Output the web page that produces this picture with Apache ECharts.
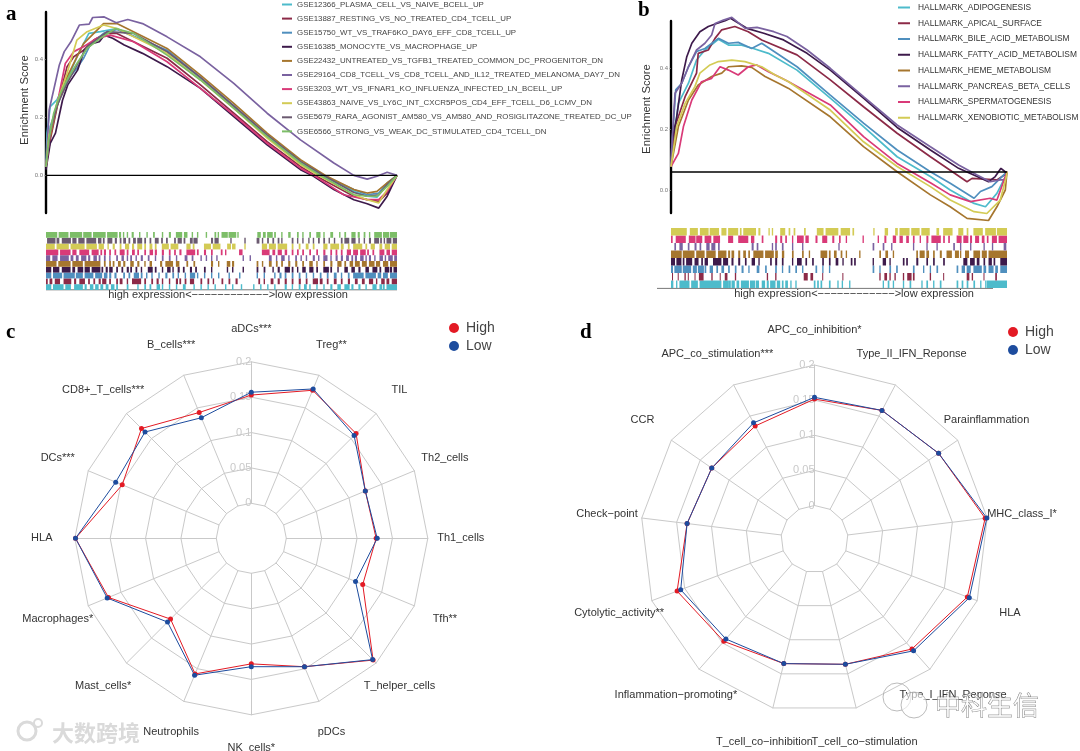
<!DOCTYPE html>
<html><head><meta charset="utf-8">
<style>html,body{margin:0;padding:0;background:#fff}#c{width:1080px;height:751px}</style>
<script src="https://cdn.jsdelivr.net/npm/echarts@6/dist/echarts.min.js"></script>
</head><body><div id="c"></div>
<script>
const namesA = ['GSE12366_PLASMA_CELL_VS_NAIVE_BCELL_UP','GSE13887_RESTING_VS_NO_TREATED_CD4_TCELL_UP','GSE15750_WT_VS_TRAF6KO_DAY6_EFF_CD8_TCELL_UP','GSE16385_MONOCYTE_VS_MACROPHAGE_UP','GSE22432_UNTREATED_VS_TGFB1_TREATED_COMMON_DC_PROGENITOR_DN','GSE29164_CD8_TCELL_VS_CD8_TCELL_AND_IL12_TREATED_MELANOMA_DAY7_DN','GSE3203_WT_VS_IFNAR1_KO_INFLUENZA_INFECTED_LN_BCELL_UP','GSE43863_NAIVE_VS_LY6C_INT_CXCR5POS_CD4_EFF_TCELL_D6_LCMV_DN','GSE5679_RARA_AGONIST_AM580_VS_AM580_AND_ROSIGLITAZONE_TREATED_DC_UP','GSE6566_STRONG_VS_WEAK_DC_STIMULATED_CD4_TCELL_DN'];
const colorsA = ['#4DBBCB','#8C2A47','#4F8FBE','#3D1A4B','#A6762E','#7A62A0','#D93A78','#D3CB55','#6B5A70','#7DBE68'];
const namesB = ['HALLMARK_ADIPOGENESIS','HALLMARK_APICAL_SURFACE','HALLMARK_BILE_ACID_METABOLISM','HALLMARK_FATTY_ACID_METABOLISM','HALLMARK_HEME_METABOLISM','HALLMARK_PANCREAS_BETA_CELLS','HALLMARK_SPERMATOGENESIS','HALLMARK_XENOBIOTIC_METABOLISM'];
const colorsB = ['#4DBBCB','#8C2A47','#4F8FBE','#3D1A4B','#A6762E','#7A62A0','#D93A78','#D3CB55'];

// panel a curves: [rank %, enrichment score]
const a0 = [[0,.03],[.3,.146],[1.2,.238],[3.1,.261],[6,.33],[8.8,.41],[12.2,.491],[15.5,.497],[20.2,.508],[34.5,.428],[44,.336],[53.5,.238],[63,.134],[72.5,.043],[78.6,0],[87.7,-.055],[91.5,-.072],[94.3,-.075],[97.2,-.032],[100,0]];
const a1 = [[0,.03],[1.2,.123],[3.6,.261],[6,.376],[7.9,.41],[10.7,.433],[13.6,.468],[16.9,.491],[20.2,.491],[34.5,.405],[44,.313],[53.5,.215],[63,.117],[72.5,.031],[76.7,0],[87.7,-.072],[91.5,-.084],[94.8,-.09],[97.2,-.061],[100,0]];
const a2 = [[0,.03],[1.2,.169],[3.1,.238],[6,.33],[8.8,.37],[10.7,.405],[12.6,.451],[16.4,.491],[20.2,.505],[34.5,.433],[44,.339],[53.5,.24],[63,.137],[72.5,.045],[78.8,0],[87.7,-.049],[91.5,-.067],[94.8,-.061],[97.2,-.026],[100,0]];
const a3 = [[0,.02],[1.2,.111],[2.7,.146],[4.7,.26],[6.2,.313],[9,.364],[10.9,.433],[13.3,.456],[15.2,.462],[16.6,.485],[19,.474],[22.3,.451],[27.5,.422],[34.5,.376],[44,.301],[53.5,.203],[63,.106],[72.5,.02],[75.8,0],[82,-.049],[87.7,-.084],[91.5,-.098],[94.8,-.113],[97.2,-.072],[100,0]];
const a4 = [[0,.03],[.8,.111],[3.1,.238],[6,.341],[10.7,.456],[16.4,.525],[20.2,.525],[34.5,.439],[44,.347],[53.5,.249],[63,.146],[72.5,.054],[79.6,0],[87.7,-.049],[91.5,-.061],[94.3,-.055],[97.2,-.026],[100,0]];
const a5 = [[0,.03],[.9,.226],[3.8,.382],[5.2,.428],[7.1,.462],[9.5,.52],[12.3,.523],[13.3,.546],[16.6,.548],[20,.528],[23.3,.539],[27.5,.525],[34.5,.479],[44,.41],[53.5,.318],[63,.215],[72.5,.123],[82,.043],[87.7,0],[91.5,-.013],[94.3,-.003],[97.2,.011],[100,0]];
const a6 = [[0,.03],[1.2,.146],[3.6,.272],[5.5,.387],[7.9,.428],[10.7,.445],[14.5,.474],[18.3,.485],[25,.462],[34.5,.393],[44,.301],[53.5,.209],[63,.111],[72.5,.025],[76.3,0],[84.8,-.067],[91.5,-.084],[94.8,-.084],[97.2,-.055],[100,0]];
const a7 = [[0,.03],[.8,.134],[3.1,.249],[6,.353],[8.8,.468],[11.7,.497],[16.4,.52],[20.2,.508],[34.5,.422],[44,.33],[53.5,.232],[63,.129],[72.5,.037],[77.7,0],[87.7,-.067],[91.5,-.084],[94.8,-.095],[97.2,-.049],[100,0]];
const a8 = [[0,.03],[1.2,.15],[3.1,.24],[6,.318],[11.7,.445],[17.4,.497],[25,.491],[34.5,.428],[44,.339],[53.5,.24],[63,.14],[72.5,.048],[79.1,0],[87.7,-.059],[91.5,-.072],[94.8,-.067],[97.2,-.032],[100,0]];
const a9 = [[0,.03],[.8,.123],[2.2,.215],[4.1,.284],[6,.33],[8.8,.387],[11.7,.439],[15.5,.474],[19.8,.508],[25,.491],[34.5,.416],[44,.33],[53.5,.232],[63,.134],[72.5,.043],[78.2,0],[82,-.026],[87.7,-.067],[91.5,-.072],[94.3,-.072],[97.2,-.038],[100,0]];
const curvesA = [a0,a1,a2,a3,a4,a5,a6,a7,a8,a9];

// panel b curves
const b0 = [[0,.077],[.2,.109],[2.2,.284],[5.2,.35],[7.6,.426],[10.1,.459],[14.1,.494],[17.1,.475],[21,.475],[24.5,.464],[29,.448],[37.5,.393],[47.4,.301],[57.3,.208],[67.3,.109],[77.2,.044],[83.1,0],[90.2,-.044],[93.6,-.055],[97,-.011],[99.5,.044],[100,.06]];
const b1 = [[0,.077],[1.2,.208],[4.2,.306],[7.6,.383],[8.1,.448],[11.1,.459],[13.1,.497],[15.1,.525],[19,.536],[23,.519],[27,.492],[37.5,.443],[47.4,.361],[57.3,.273],[67.3,.186],[77.2,.109],[88.1,.027],[89.6,.038],[97,.033],[100,.055]];
const b2 = [[0,.077],[.2,.131],[1.4,.328],[3.2,.35],[5.2,.404],[7.6,.454],[10.1,.464],[14.1,.497],[17.1,.481],[20,.484],[24,.464],[27,.481],[37.5,.404],[47.4,.311],[57.3,.219],[67.3,.131],[77.2,.06],[83.1,.022],[90.2,-.027],[92.1,-.005],[95.5,.011],[98.5,.044],[100,.06]];
const b3 = [[0,.077],[.2,.153],[1.7,.24],[3.2,.361],[4.7,.437],[6.2,.481],[8.6,.519],[11.1,.536],[13.6,.546],[16.1,.555],[17.7,.563],[22.6,.53],[27.6,.514],[33.5,.492],[40.5,.448],[47.4,.393],[57.3,.301],[67.3,.205],[77.2,.131],[85.6,.071],[91.1,.044],[94.5,.027],[96.5,.044],[98.2,.071],[100,.055]];
const b4 = [[0,.077],[2.2,.208],[5.2,.295],[8.1,.344],[12.1,.372],[15.1,.383],[17.1,.404],[21,.407],[24,.402],[28,.372],[32,.35],[35,.333],[47.4,.24],[57.3,.142],[67.3,.06],[77.2,-.016],[83.1,-.055],[88.1,-.093],[94.5,-.1],[97,-.055],[99.5,0],[100,.06]];
const b5 = [[0,.077],[.4,.175],[1.2,.317],[3.2,.35],[5.2,.404],[7.6,.459],[10.1,.481],[12.1,.508],[13.1,.546],[15.6,.557],[18.1,.566],[22.1,.53],[25.6,.533],[30.6,.519],[34.5,.503],[40.5,.459],[47.4,.399],[57.3,.306],[67.3,.213],[77.2,.142],[85.6,.082],[91.1,.049],[95,.027],[98,.033],[99.5,.033],[100,.06]];
const b6 = [[0,.077],[2.2,.12],[3.7,.208],[6.2,.295],[9.1,.355],[12.1,.366],[14.6,.404],[17.1,.393],[20,.377],[23,.404],[25.5,.41],[29,.388],[33,.366],[35,.355],[47.4,.279],[57.3,.175],[67.3,.087],[77.2,.024],[83.1,-.016],[89.1,-.038],[95,-.027],[97,-.033],[99.5,.044],[100,.06]];
const b7 = [[0,.077],[1.7,.208],[4.2,.284],[7.1,.339],[8.6,.383],[11.6,.41],[14.1,.421],[18.1,.426],[22,.421],[27,.404],[31,.377],[35,.355],[47.4,.262],[57.3,.158],[67.3,.077],[77.2,.011],[83.1,-.033],[90.2,-.071],[94,-.077],[98,-.033],[99.8,.044],[100,.06]];
const curvesB = [b0,b1,b2,b3,b4,b5,b6,b7];

// barcode rows: start %, width %, ...
const stripA0 = [0,1.5,2,3,5.5,1.6,8,2.5,11,.6,12.5,1,14,1,15.5,.8,17,.8,18.5,1,20,.5,23,.5,26,.4,28,.5,29.5,.5,31.5,1,33,.4,35,.4,37,.4,39,.8,42,.4,44,.4,46,.4,48,.4,51,.4,53,.4,55.5,.4,59,.4,61,.4,63,.4,65,.4,68,.6,70,.4,72,.5,73.5,.8,75,.4,77,.4,79,.4,81,.6,83,1,85,1.5,87,.6,89,.6,91,.4,93,1.2,95,.8,96,.5,97,3];
const stripA1 = [0,.5,1,.8,2.5,1.5,5,2.2,8,.6,9.5,1.6,12,.5,13.5,.5,15,.6,16,1.2,18,.5,20,.5,21,.8,23,.4,24.5,2.6,28,.5,30,.5,31.5,.6,33,.4,35,.4,37,.6,38,.5,39.5,.5,41,1.2,44,.5,46,.5,47.5,.4,50,.5,52,.5,54,.6,60.5,.5,62,.4,64,.8,66,.6,68,.6,70,.5,72,.6,74,.5,76,1.5,78,.8,80,.5,82,.8,84,.5,86,.6,88,.8,90,.8,92,1.2,94,.4,95.5,1,97,.8,98.5,1.5];
const stripA2 = [0,1.5,2,2.6,5,3.2,8.5,2,11,2.5,14,2,16.5,1,18,.6,19.5,.6,22,.5,23.5,.5,25,1.5,27,.5,28.5,.4,30,.4,32,.4,34,.6,36,.5,37.5,.4,39.5,.4,41,1.5,43,.4,45,.4,47,.4,49,.4,52,.4,55,.4,60,.4,62,.4,65,.4,66.5,.6,68,.5,70,.5,72,.5,74,.4,76,.4,78,.5,80,.5,82,.8,84,.4,86,.5,87.5,3,91,3,94.5,1,96,1.4,98,2];
const stripA3 = [0,1.5,2,1.8,4.5,2.5,7.5,.8,9,1.6,11,1.5,13,2.5,15.8,.5,17,.6,18,1,20,.5,21.5,.5,23,.6,24,.5,25.5,.5,27,.4,29,1.4,31,.5,33,.4,34.5,1,36,.4,37.5,.6,39,.5,41,.6,42.5,.5,45,.5,47,.4,51.5,.4,53,.4,56,.4,60,.5,62,.5,64.5,.4,66,.6,68,1.5,70,.5,71.5,.4,73,1,75,1.2,77,.5,79,1.6,81,.5,83,.4,85,1,87,1,89,.6,91,1,93,1.4,95,.5,96.5,1.3,98,.6,99,1];
const stripA4 = [0,3,3.5,3.5,7.5,3,11,4.5,16.5,.5,18,.5,19,.5,20.5,.8,22,.6,24,1,26,.6,28,.4,29.5,.7,32.5,.6,34,2.2,37,1,40,.5,42,.5,47,.6,49,.4,51.5,1,53,.6,60,.5,61.5,.4,63.5,.8,65.5,.5,67,.5,69,.6,71,.6,73,.5,75,1,77,.4,79,.5,81,.6,83,1.2,85,.5,86.5,1,88,1.4,90,1.4,92,1.6,94,1.2,96,1.5,98,2];
const stripA5 = [0,1.2,1.8,1.5,4,2.5,7,.8,8.5,.8,10,1.5,12,.6,13.5,1,15,.5,16.5,.5,18,.4,20,.5,21.5,.7,23,.4,24,.5,25.5,.4,27,.6,29,.5,31,.4,33,.5,35,.5,37,.4,39.5,.8,41.5,.5,44,.4,45.5,.4,47,.4,48.5,.4,56,.4,58,.4,63.5,.8,65.5,.4,67,1,69,.4,71,.5,72.5,.4,74,.4,76,.6,77.5,.4,79,1.2,81,.4,82.5,.6,84,.6,85.5,.8,87,.5,88,.6,89.5,1,91,.4,92,.6,93.5,.4,95,1,96.5,.4,97.5,1.3,99.2,.8];
const stripA6 = [0,3.5,4,3,7.5,1.2,9.5,2.8,13,2,15.5,.5,16.5,.6,18,.5,19.5,.5,21,1.4,23,.5,24.5,.8,26,.5,28,.5,29.5,1,31,.6,33,.6,35,.5,36.5,.5,38,.6,40,2.5,43,.5,45,.6,47,.5,49.8,.5,51,.4,55,1,61.5,2.2,64.5,.8,66,1.2,68,.7,70,.5,71.5,.5,73,.5,75,.5,77,.5,79,.6,81,.5,82.5,.5,84,.5,85.7,1.2,87.5,1.4,89.5,1.6,91.5,.5,93,.5,95,1.4,97,1,98.5,1.5];
const stripA7 = [0,2.5,3,3.5,7,4,11.5,3,15,1.5,17.5,.4,19,.6,21,.5,22.5,1.2,24.5,.6,26,1.4,28,.5,29.5,.8,31,.5,33,2,35.5,2.2,40,1.2,41.8,.5,45,2,47.5,2.2,51.6,1.1,53,1,56.5,.4,61.5,1.5,63.5,2,66,2.7,70,.5,72,.5,74,.8,76,.5,79,1.2,81,2.5,84,.8,86,.5,87.5,2.6,91,.5,92.5,1.2,95,.8,96.5,1.5,98.5,1.5];
const stripA8 = [.3,2.4,3,.8,4.5,2.6,7.5,1.2,9.2,1.8,11.5,2.8,14.8,1,16.2,.5,17.5,1.4,19.6,.6,21,.5,22,.8,23.5,.5,24.8,.8,26,1.4,28,.5,29.5,.5,31,1.1,32.8,.5,34.2,.5,36.5,.5,37.5,1.2,39.2,.5,41,.8,42,1.2,47,.6,48,1.2,52.5,.4,56.5,.4,60,.8,61.5,.4,63,.5,64.5,.5,66,.5,67,.4,70,.5,71.5,.4,73,.4,74.7,.4,76,.4,77.5,.5,79,.5,80.5,.4,82,.4,84,.5,85,1.4,87,1.2,89,.4,90.5,.4,92,.6,93.5,1.4,95.2,.5,96.2,.4,97,1.4,98.8,1.2];
const stripA9 = [0,3.2,3.6,2.8,6.8,3.5,10.6,2.4,13.4,3.6,17.4,3,20.8,.6,21.9,.4,23,.4,24.4,.6,26.5,.4,28.6,.4,30.5,.5,33,.4,35,.6,37,1.8,39.3,1,41.5,.4,43,.4,45.5,.4,48,.5,48.9,.4,50,1.8,52,2.2,54.5,.4,60.2,1,61.8,.8,63,1.6,65,.5,67,.4,69,.7,71.5,.5,73,.4,75,.5,77,1.2,79,.4,81,.8,83.5,.4,85,.5,87,1.2,88.8,.6,90.5,.5,92,.4,93.5,2.2,96,1.8,98,2];
const stripsA = [stripA0,stripA1,stripA2,stripA3,stripA4,stripA5,stripA6,stripA7,stripA8,stripA9];

const stripB0 = [0,.7,1.5,.4,2.5,3,6,2,8.5,4,12.5,2.5,15.5,1.5,17,.8,18,1,19.5,.8,20.8,2.4,23.5,1.5,25.2,1,27,1,28.5,.6,29.5,1.6,31.5,1,33,.5,34,.8,35.5,.4,37,.4,42.5,.5,43.5,.5,44.5,.5,47,.5,49.5,.4,50.8,.4,53,.4,63,.4,64.5,.5,66,.4,69,.4,71,.5,74.5,.4,76,.5,78,.4,80,.5,85,.5,86.5,.5,88,.5,90,.5,92,.4,93.5,.4,94,6];
const stripB1 = [.3,.3,2,.3,4,.4,5,.3,7,.3,8.3,1.4,12,.4,14.5,.3,16,.8,19,.4,28.5,.4,31,.4,39.5,1.2,41.5,.8,45,.3,51,.3,62,.4,63.5,.8,65,.4,66.5,.4,69,.4,70.3,1.3,72,.5,77,.4,81,.3,88,.8,89.5,.4,93,.3,96.5,.5];
const stripB2 = [0,.6,1,2.2,3.5,2.5,6.5,1.2,8,1.8,10,.5,11.5,1,13.5,.5,15,.8,17,.5,19,.5,21,.6,23,.4,25.5,.8,28,.5,31,.5,33,.4,35,.5,37,.5,39,.4,43,.5,45,.4,47,.4,60,.5,62,.4,65,.5,67,.5,72,.5,75,.4,77,.4,79,.5,85,.5,86.5,1,88,1.2,90,2.5,93,.8,94.5,1.5,96.5,.8,98,2];
const stripB3 = [0,1.2,1.6,1.5,3.5,.5,4.5,1.8,7,1.2,9,.5,10,1,12.5,2.5,15.5,1.5,18,.6,20,.6,22,.5,24,1,26,.4,29.5,.5,31,.6,33,.5,36,.4,37.5,1.4,40,.5,42,.5,45,.5,47,.5,49,.8,51,.4,53.5,.5,54.5,.5,60,.4,63,1,65,.4,69,.5,70,.5,73,.6,76,.5,78,.5,81,.5,87,1.2,89,1.4,91,.8,93,.5,94.5,1,96,.5,98,2];
const stripB4 = [0,3.2,3.5,3.5,7.5,2.5,10.5,2.8,14,2.5,17,.6,18,.8,20,.6,21.5,.8,23,.5,24.5,3,28,2.6,31,.8,33,.7,36,.5,39,.5,41,.4,44.5,2,47,.5,48.5,.8,50.5,.5,52,.4,56,.4,62,.5,63.8,.8,66,.4,73,.5,74,1.5,76,.8,78,.5,80,.6,82,1.6,84.5,1.2,86,.4,87.5,1.2,90,2,92.5,1.5,94.5,5.5];
const stripB5 = [1,.5,2.5,1,5,.5,7,.6,8.5,.5,10.5,1,12,1.2,14,.5,24,.6,25.5,.5,30,.4,31,.5,33,.5,36,.4,39,.4,49.8,.4,60,.5,63,.5,65.5,.4,72,.4,76,.4,79,.4,84,.5,86,.4,89,.4,93,.4,95.5,.4,99,.8];
const stripB6 = [0,.5,1.4,3,5.3,2,7.5,1.8,10,2,12.6,2,17,1.5,20,3,23.8,1,27,.5,31,.6,32.5,.6,34,.5,36,.4,37.5,2,40,1,43,.6,45,1.5,48,.6,50,.5,52,.4,57,.4,61.5,.4,63.5,.6,66,1,68,1,70,.8,72,.5,74,.4,76,.6,77.5,2.8,81,.5,82.5,.5,85,1.5,87,1.5,89,.6,90.5,1.2,92.5,.8,94,.5,95.5,1.5,97.5,2.5];
const stripB7 = [0,4.7,5.6,2.4,8.6,2.6,11.5,2.8,15,1.5,17,3,20.5,.5,21.5,3.8,26,.6,29,.4,30,.4,32.5,1.5,35,.5,36.5,.5,39.6,.5,43.4,2,46,3.8,50.5,2.8,54,.5,60.2,.4,63.6,1,66.7,.8,68,3,71.5,2.5,74.5,2.5,79,.8,81,2.8,85.5,1.5,88,.5,90,2.8,93.5,3.2,97,3];
const stripsB = [stripB0,stripB1,stripB2,stripB3,stripB4,stripB5,stripB6,stripB7];

// radar panels, listed clockwise from the top
const axesC = ['aDCs***','Treg**','TIL','Th2_cells','Th1_cells','Tfh**','T_helper_cells','pDCs','NK_cells*','Neutrophils','Mast_cells*','Macrophages*','HLA','DCs***','CD8+_T_cells***','B_cells***'];
const highC = [.153,.177,.16,.125,.127,.121,.194,.147,.128,.158,.112,.169,.199,.148,.17,.143];
const lowC  = [.157,.179,.156,.125,.1285,.11,.193,.147,.132,.16,.118,.171,.199,.158,.163,.135];
const axesD = ['APC_co_inhibition*','Type_II_IFN_Reponse','Parainflammation','MHC_class_I*','HLA','Type_I_IFN_Reponse','T_cell_co\u2212stimulation','T_cell_co\u2212inhibition','Inflammation\u2212promoting*','Cytolytic_activity**','Check\u2212point','CCR','APC_co_stimulation***'];
const highD = [.1515,.159,.167,.197,.185,.1615,.136,.135,.147,.1615,.135,.13,.134];
const lowD  = [.154,.159,.167,.1995,.188,.165,.136,.135,.1425,.156,.135,.13,.139];
const radarTicks = ['0','0.05','0.1','0.15','0.2'];
const scoreTicksA = [0,0.2,0.4];
const scoreTicksB = [0,0.2,0.4];
const groups = ['High','Low'];
const groupColors = ['#E31A24','#1D4C9E'];
const xCaption = 'high expression<\u2212\u2212\u2212\u2212\u2212\u2212\u2212\u2212\u2212\u2212\u2212\u2212>low expression';

const FONT = '"Liberation Sans",Arial,sans-serif';
const geo = {
  a:{left:46,top:12,width:351,height:201,min:-.13,max:.565,base:0,sTop:232,sH:58},
  b:{left:671,top:21,width:336,height:192,min:-.0754,max:.554,base:.059,sTop:228,sH:60}
};
const radC = {cx:251.3,cy:538.3,r0:35,r:176.5,gap:33};
const radD = {cx:814.5,cy:539,r0:33.5,r:174,gap:35};

function chunk(flat){const o=[];for(let i=0;i<flat.length;i+=2)o.push([flat[i],flat[i+1]]);return o;}
// ECharts lays radar indicators out anticlockwise: keep the first, flip the rest
function cw(a){return [a[0]].concat(a.slice(1).reverse());}

const grid=[],xAxis=[],yAxis=[],series=[],legend=[],elements=[];
function scorePanel(g,names,colors,curves,strips,ticks){
  const gi=grid.length;
  grid.push({left:g.left,top:g.top,width:g.width,height:g.height,containLabel:false});
  xAxis.push({type:'value',gridIndex:gi,min:0,max:100,show:false});
  yAxis.push({type:'value',gridIndex:gi,min:g.min,max:g.max,splitLine:{show:false},
    axisLine:{show:true,onZero:false,lineStyle:{color:'#000',width:2.4}},
    axisTick:{show:true,length:2,customValues:ticks,lineStyle:{color:'#999',width:.6}},
    axisLabel:{customValues:ticks,fontSize:6,color:'#777',margin:3,fontFamily:FONT,formatter:v=>v.toFixed(1)}});
  names.forEach((n,i)=>series.push({type:'line',name:n,xAxisIndex:gi,yAxisIndex:gi,data:curves[i],
    showSymbol:false,clip:false,lineStyle:{color:colors[i],width:1.7},itemStyle:{color:colors[i]},silent:true,z:3}));
  series.push({type:'line',name:'baseline',xAxisIndex:gi,yAxisIndex:gi,data:[[0,g.base],[100,g.base]],showSymbol:false,clip:false,
    lineStyle:{color:'#000',width:1.4},silent:true,z:4});
  const si=grid.length, n=names.length;
  grid.push({left:g.left,top:g.sTop,width:g.width,height:g.sH});
  xAxis.push({type:'value',gridIndex:si,min:0,max:100,show:false});
  yAxis.push({type:'value',gridIndex:si,min:0,max:n,show:false});
  names.forEach((nm,i)=>series.push({type:'custom',name:nm,xAxisIndex:si,yAxisIndex:si,silent:true,
    data:chunk(strips[i]).map(d=>[d[0],d[1],i]),encode:{x:0,y:2},
    renderItem:(p,api)=>{
      const s=api.value(0),w=api.value(1),r=api.value(2);
      const a=api.coord([s,r+1]),b=api.coord([s+w,r]);
      return {type:'rect',shape:{x:a[0],y:a[1],width:Math.max(1,b[0]-a[0]),height:b[1]-a[1]},style:{fill:colors[i]}};
    }}));
}
scorePanel(geo.a,namesA,colorsA,curvesA,stripsA,scoreTicksA);
scorePanel(geo.b,namesB,colorsB,curvesB,stripsB,scoreTicksB);

legend.push({data:namesA,orient:'vertical',padding:0,left:282,top:-.5,itemWidth:10,itemHeight:2,itemGap:4.1,icon:'rect',selectedMode:false,
  textStyle:{fontSize:7.9,lineHeight:10,color:'#444',fontFamily:FONT}});
legend.push({data:namesB,orient:'vertical',padding:0,left:898,top:2.5,itemWidth:12,itemHeight:2,itemGap:5.75,icon:'rect',selectedMode:false,
  textStyle:{fontSize:8.4,lineHeight:10,color:'#333',fontFamily:FONT,padding:[0,0,0,3]}});
legend.push({data:groups,orient:'vertical',padding:0,left:449,top:320,itemWidth:10,itemHeight:10,itemGap:2,icon:'circle',selectedMode:false,
  textStyle:{fontSize:14,lineHeight:16,color:'#444',fontFamily:FONT,padding:[0,0,0,2]}});
legend.push({data:groups,orient:'vertical',padding:0,left:1008,top:324,itemWidth:10,itemHeight:10,itemGap:2,icon:'circle',selectedMode:false,
  textStyle:{fontSize:14,lineHeight:16,color:'#444',fontFamily:FONT,padding:[0,0,0,2]}});

function radarCfg(g,axes){return {center:[g.cx,g.cy],radius:[g.r0,g.r],startAngle:90,shape:'polygon',splitNumber:4,
  indicator:cw(axes).map(n=>({name:n,min:0,max:.2})),nameGap:g.gap,
  axisName:{color:'#333',fontSize:11,fontFamily:FONT,align:'center',verticalAlign:'middle'},
  splitArea:{show:false},axisTick:{show:false},axisLabel:{show:false},
  splitLine:{lineStyle:{color:'#C9C9C9',width:1}},axisLine:{lineStyle:{color:'#C9C9C9',width:1}}};}
function radarSeries(idx,hi,lo){return {type:'radar',radarIndex:idx,symbol:'circle',symbolSize:5,silent:true,z:5,
  data:[hi,lo].map((v,i)=>({name:groups[i],value:cw(v),itemStyle:{color:groupColors[i]},lineStyle:{color:groupColors[i],width:1}}))};}
series.push(radarSeries(0,highC,lowC),radarSeries(1,highD,lowD));

function tickText(g){radarTicks.forEach((t,i)=>elements.push({type:'text',z:1,style:{text:t,
  x:g.cx,y:g.cy-(g.r0+i*(g.r-g.r0)/4),textAlign:'right',textVerticalAlign:'middle',fill:'#C9C9C9',font:'11px '+FONT}}));}
tickText(radC);tickText(radD);
[['a',6,15],['b',638,11],['c',6,333],['d',580,333]].forEach(l=>elements.push({type:'text',style:{text:l[0],x:l[1],y:l[2],
  textVerticalAlign:'middle',fill:'#000',font:'bold 21px "Liberation Serif",serif'}}));
[[25,100],[647,109]].forEach(p=>elements.push({type:'text',x:p[0],y:p[1],rotation:Math.PI/2,
  style:{text:'Enrichment Score',textAlign:'center',textVerticalAlign:'middle',fill:'#333',font:'11.3px '+FONT}}));
[[228,294.5],[854,293.5]].forEach(p=>elements.push({type:'text',style:{text:xCaption,x:p[0],y:p[1],textAlign:'center',textVerticalAlign:'middle',fill:'#333',font:'11px '+FONT}}));
[[46,397,289.8],[657,993,288.4]].forEach(p=>elements.push({type:'line',shape:{x1:p[0],y1:p[2],x2:p[1],y2:p[2]},style:{stroke:'#555',lineWidth:.8}}));
// watermarks
elements.push({type:'text',z:20,style:{text:'大数跨境',x:52,y:733,textVerticalAlign:'middle',fill:'#DADADA',font:'bold 22px "Noto Sans CJK SC"'}});
elements.push({type:'circle',z:20,shape:{cx:27,cy:731,r:9},style:{fill:'none',stroke:'#DADADA',lineWidth:3}});
elements.push({type:'circle',z:20,shape:{cx:38,cy:723,r:4},style:{fill:'none',stroke:'#DADADA',lineWidth:2}});
elements.push({type:'circle',z:20,shape:{cx:897,cy:697,r:14},style:{fill:'none',stroke:'#AAA',lineWidth:.8}});
elements.push({type:'circle',z:20,shape:{cx:914,cy:705,r:13},style:{fill:'rgba(255,255,255,.6)',stroke:'#AAA',lineWidth:.8}});
elements.push({type:'text',z:20,style:{text:'中科生信',x:935,y:705,textVerticalAlign:'middle',fill:'rgba(255,255,255,.55)',stroke:'#555',lineWidth:.5,font:'26px "Noto Sans CJK SC"'}});

const chart=echarts.init(document.getElementById('c'),null,{renderer:'canvas'});
chart.setOption({animation:false,backgroundColor:'#fff',textStyle:{fontFamily:FONT},grid,xAxis,yAxis,legend,
  radar:[radarCfg(radC,axesC),radarCfg(radD,axesD)],series,graphic:{elements}});
</script></body></html>
